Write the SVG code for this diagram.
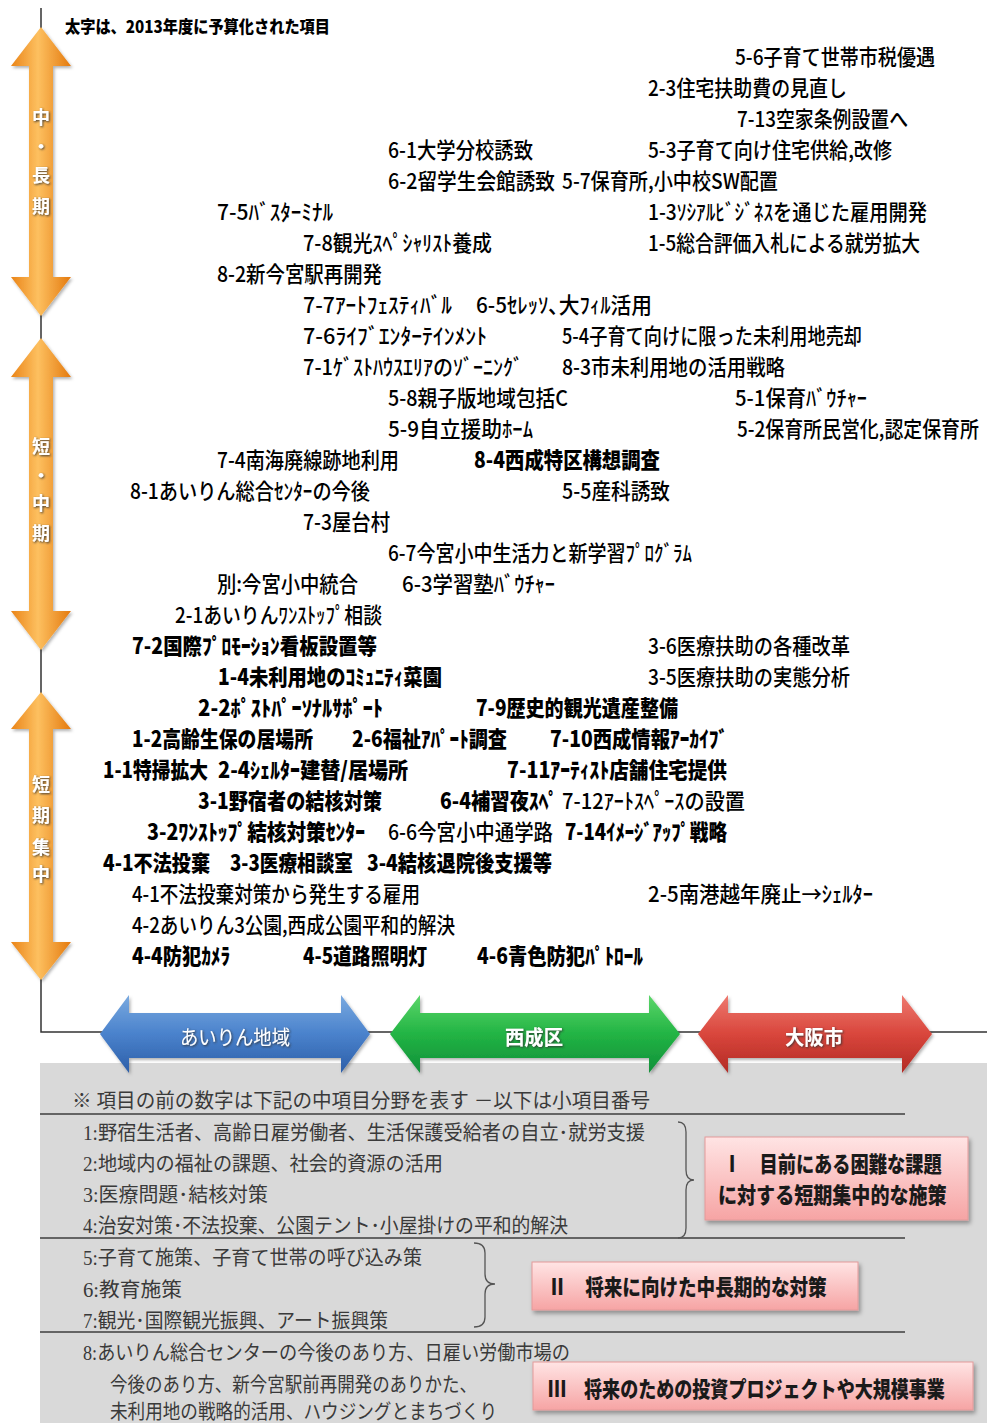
<svg xmlns="http://www.w3.org/2000/svg" width="987" height="1423" viewBox="0 0 987 1423">
<style>
text{font-family:"Noto Sans CJK JP","Noto Sans CJK SC",sans-serif;}
.it{font-size:22px;font-weight:500;fill:#000;}
.b{font-size:22px;font-weight:900;fill:#000;}
.ttl{font-size:17px;font-weight:900;fill:#000;}
.leg{font-size:20px;font-weight:400;fill:#3a3a3a;font-family:"Liberation Serif","Noto Sans CJK JP",serif;}
.vl{font-size:18px;font-weight:700;fill:#fff;text-anchor:middle;}
.hl{font-size:20px;fill:#fff;text-anchor:middle;}
.bx{font-size:22px;font-weight:900;fill:#1a1a1a;}
.ax{stroke:#333;stroke-width:1.5;fill:none;}
.sep{stroke:#3c3c3c;stroke-width:1.5;}
.brace{stroke:#555;stroke-width:1.3;fill:none;}
.pink{fill:url(#pk);stroke:#e39a9a;stroke-width:1;filter:url(#sh);}
</style>
<defs>
<linearGradient id="og" x1="0" y1="0" x2="1" y2="0">
<stop offset="0" stop-color="#ea8418"/>
<stop offset="0.45" stop-color="#fdc060"/>
<stop offset="1" stop-color="#e47a0e"/>
</linearGradient>
<linearGradient id="bg" x1="0" y1="0" x2="0" y2="1">
<stop offset="0" stop-color="#7aaae0"/>
<stop offset="0.5" stop-color="#4a82cc"/>
<stop offset="1" stop-color="#2c5ea8"/>
</linearGradient>
<linearGradient id="gg" x1="0" y1="0" x2="0" y2="1">
<stop offset="0" stop-color="#5cd66a"/>
<stop offset="0.5" stop-color="#22b444"/>
<stop offset="1" stop-color="#12903a"/>
</linearGradient>
<linearGradient id="rg" x1="0" y1="0" x2="0" y2="1">
<stop offset="0" stop-color="#ee7a70"/>
<stop offset="0.5" stop-color="#d9463c"/>
<stop offset="1" stop-color="#b22a24"/>
</linearGradient>
<linearGradient id="pk" x1="0" y1="0" x2="0" y2="1">
<stop offset="0" stop-color="#ffe4e4"/>
<stop offset="1" stop-color="#f6a4a4"/>
</linearGradient>
<filter id="sh" x="-10%" y="-20%" width="120%" height="150%">
<feDropShadow dx="2" dy="3" stdDeviation="2" flood-color="#000" flood-opacity="0.35"/>
</filter>
<filter id="ts" x="-20%" y="-20%" width="140%" height="140%">
<feDropShadow dx="1" dy="1" stdDeviation="0.8" flood-color="#333" flood-opacity="0.9"/>
</filter>
<filter id="as" x="-20%" y="-10%" width="140%" height="120%">
<feDropShadow dx="1.5" dy="2" stdDeviation="1.5" flood-color="#000" flood-opacity="0.3"/>
</filter>
</defs>

<rect id="legend-bg" x="40" y="1063" width="947" height="360" fill="#d9d9d9"/>

<g id="connectors">
<path class="ax" d="M41,8 L41,1032 L987,1032"/>
</g>

<g id="arrow-midlong">
<path d="M41,27 L71,66 L53,66 L53,277 L71,277 L41,316 L11,277 L29,277 L29,66 L11,66 Z" fill="url(#og)" filter="url(#as)"/>
<text class="vl" x="41" y="124" filter="url(#ts)">中</text>
<text class="vl" x="41" y="153" filter="url(#ts)">・</text>
<text class="vl" x="41" y="182" filter="url(#ts)">長</text>
<text class="vl" x="41" y="213" filter="url(#ts)">期</text>
</g>
<g id="arrow-shortmid">
<path d="M41,338 L71,377 L53,377 L53,611 L71,611 L41,650 L11,611 L29,611 L29,377 L11,377 Z" fill="url(#og)" filter="url(#as)"/>
<text class="vl" x="41" y="453" filter="url(#ts)">短</text>
<text class="vl" x="41" y="482" filter="url(#ts)">・</text>
<text class="vl" x="41" y="510" filter="url(#ts)">中</text>
<text class="vl" x="41" y="540" filter="url(#ts)">期</text>
</g>
<g id="arrow-short">
<path d="M41,692 L71,729 L53,729 L53,942 L71,942 L41,980 L11,942 L29,942 L29,729 L11,729 Z" fill="url(#og)" filter="url(#as)"/>
<text class="vl" x="41" y="791" filter="url(#ts)">短</text>
<text class="vl" x="41" y="822" filter="url(#ts)">期</text>
<text class="vl" x="41" y="854" filter="url(#ts)">集</text>
<text class="vl" x="41" y="881" filter="url(#ts)">中</text>
</g>

<g id="arrow-airin">
<path d="M100,1034 L129,995 L129,1013 L341,1013 L341,995 L370,1034 L341,1073 L341,1058 L129,1058 L129,1073 Z" fill="url(#bg)" filter="url(#as)"/>
<text class="hl" x="235" y="1045" filter="url(#ts)" textLength="110" lengthAdjust="spacingAndGlyphs">あいりん地域</text>
</g>
<g id="arrow-nishinari">
<path d="M390,1034 L420,995 L420,1013 L649,1013 L649,995 L680,1034 L649,1073 L649,1058 L420,1058 L420,1073 Z" fill="url(#gg)" filter="url(#as)"/>
<text class="hl" x="534" y="1045" font-weight="700" filter="url(#ts)" textLength="58" lengthAdjust="spacingAndGlyphs">西成区</text>
</g>
<g id="arrow-osaka">
<path d="M698,1034 L728,995 L728,1013 L902,1013 L902,995 L932,1034 L902,1073 L902,1058 L728,1058 L728,1073 Z" fill="url(#rg)" filter="url(#as)"/>
<text class="hl" x="814" y="1045" font-weight="700" filter="url(#ts)" textLength="58" lengthAdjust="spacingAndGlyphs">大阪市</text>
</g>

<g id="title"><text class="ttl" x="65" y="33" textLength="265" lengthAdjust="spacingAndGlyphs">太字は、2013年度に予算化された項目</text></g>

<g id="items">
<g id="i5-6"><text class="it" x="735" y="65" textLength="200" lengthAdjust="spacingAndGlyphs">5-6子育て世帯市税優遇</text></g>
<g id="i2-3"><text class="it" x="648" y="96" textLength="199" lengthAdjust="spacingAndGlyphs">2-3住宅扶助費の見直し</text></g>
<g id="i7-13"><text class="it" x="737" y="127" textLength="171" lengthAdjust="spacingAndGlyphs">7-13空家条例設置へ</text></g>
<g id="i6-1"><text class="it" x="388" y="158" textLength="145" lengthAdjust="spacingAndGlyphs">6-1大学分校誘致</text></g>
<g id="i5-3"><text class="it" x="648" y="158" textLength="244" lengthAdjust="spacingAndGlyphs">5-3子育て向け住宅供給,改修</text></g>
<g id="i6-2"><text class="it" x="388" y="189" textLength="167" lengthAdjust="spacingAndGlyphs">6-2留学生会館誘致</text></g>
<g id="i5-7"><text class="it" x="562" y="189" textLength="216" lengthAdjust="spacingAndGlyphs">5-7保育所,小中校SW配置</text></g>
<g id="i7-5"><text class="it" x="217" y="220" textLength="116" lengthAdjust="spacingAndGlyphs">7-5ﾊﾞｽﾀｰﾐﾅﾙ</text></g>
<g id="i1-3"><text class="it" x="648" y="220" textLength="279" lengthAdjust="spacingAndGlyphs">1-3ｿｼｱﾙﾋﾞｼﾞﾈｽを通じた雇用開発</text></g>
<g id="i7-8"><text class="it" x="303" y="251" textLength="189" lengthAdjust="spacingAndGlyphs">7-8観光ｽﾍﾟｼｬﾘｽﾄ養成</text></g>
<g id="i1-5"><text class="it" x="648" y="251" textLength="272" lengthAdjust="spacingAndGlyphs">1-5総合評価入札による就労拡大</text></g>
<g id="i8-2"><text class="it" x="217" y="282" textLength="165" lengthAdjust="spacingAndGlyphs">8-2新今宮駅再開発</text></g>
<g id="i7-7"><text class="it" x="303" y="313" textLength="149" lengthAdjust="spacingAndGlyphs">7-7ｱｰﾄﾌｪｽﾃｨﾊﾞﾙ</text></g>
<g id="i6-5"><text class="it" x="476" y="313" textLength="176" lengthAdjust="spacingAndGlyphs">6-5ｾﾚｯｿ､大ﾌｨﾙ活用</text></g>
<g id="i7-6"><text class="it" x="303" y="344" textLength="184" lengthAdjust="spacingAndGlyphs">7-6ﾗｲﾌﾞｴﾝﾀｰﾃｲﾝﾒﾝﾄ</text></g>
<g id="i5-4"><text class="it" x="562" y="344" textLength="300" lengthAdjust="spacingAndGlyphs">5-4子育て向けに限った未利用地売却</text></g>
<g id="i7-1"><text class="it" x="303" y="375" textLength="220" lengthAdjust="spacingAndGlyphs">7-1ｹﾞｽﾄﾊｳｽｴﾘｱのｿﾞｰﾆﾝｸﾞ</text></g>
<g id="i8-3"><text class="it" x="562" y="375" textLength="223" lengthAdjust="spacingAndGlyphs">8-3市未利用地の活用戦略</text></g>
<g id="i5-8"><text class="it" x="388" y="406" textLength="180" lengthAdjust="spacingAndGlyphs">5-8親子版地域包括C</text></g>
<g id="i5-1"><text class="it" x="735" y="406" textLength="132" lengthAdjust="spacingAndGlyphs">5-1保育ﾊﾞｳﾁｬｰ</text></g>
<g id="i5-9"><text class="it" x="388" y="437" textLength="145" lengthAdjust="spacingAndGlyphs">5-9自立援助ﾎｰﾑ</text></g>
<g id="i5-2"><text class="it" transform="translate(737,437) scale(0.84,1)" x="0" y="0" textLength="288" lengthAdjust="spacingAndGlyphs">5-2保育所民営化,認定保育所</text></g>
<g id="i7-4"><text class="it" x="217" y="468" textLength="182" lengthAdjust="spacingAndGlyphs">7-4南海廃線跡地利用</text></g>
<g id="i8-4"><text class="b" x="474" y="468" textLength="186" lengthAdjust="spacingAndGlyphs">8-4西成特区構想調査</text></g>
<g id="i8-1"><text class="it" x="130" y="499" textLength="240" lengthAdjust="spacingAndGlyphs">8-1あいりん総合ｾﾝﾀｰの今後</text></g>
<g id="i5-5"><text class="it" x="562" y="499" textLength="108" lengthAdjust="spacingAndGlyphs">5-5産科誘致</text></g>
<g id="i7-3"><text class="it" x="303" y="530" textLength="87" lengthAdjust="spacingAndGlyphs">7-3屋台村</text></g>
<g id="i6-7"><text class="it" x="388" y="561" textLength="304" lengthAdjust="spacingAndGlyphs">6-7今宮小中生活力と新学習ﾌﾟﾛｸﾞﾗﾑ</text></g>
<g id="ibetsu"><text class="it" x="217" y="592" textLength="141" lengthAdjust="spacingAndGlyphs">別:今宮小中統合</text></g>
<g id="i6-3"><text class="it" x="402" y="592" textLength="153" lengthAdjust="spacingAndGlyphs">6-3学習塾ﾊﾞｳﾁｬｰ</text></g>
<g id="i2-1"><text class="it" x="175" y="623" textLength="207" lengthAdjust="spacingAndGlyphs">2-1あいりんﾜﾝｽﾄｯﾌﾟ相談</text></g>
<g id="i7-2"><text class="b" x="132" y="654" textLength="245" lengthAdjust="spacingAndGlyphs">7-2国際ﾌﾟﾛﾓｰｼｮﾝ看板設置等</text></g>
<g id="i3-6"><text class="it" x="648" y="654" textLength="202" lengthAdjust="spacingAndGlyphs">3-6医療扶助の各種改革</text></g>
<g id="i1-4"><text class="b" x="218" y="685" textLength="224" lengthAdjust="spacingAndGlyphs">1-4未利用地のｺﾐｭﾆﾃｨ菜園</text></g>
<g id="i3-5"><text class="it" x="648" y="685" textLength="202" lengthAdjust="spacingAndGlyphs">3-5医療扶助の実態分析</text></g>
<g id="i2-2"><text class="b" x="198" y="716" textLength="185" lengthAdjust="spacingAndGlyphs">2-2ﾎﾟｽﾄﾊﾟｰｿﾅﾙｻﾎﾟｰﾄ</text></g>
<g id="i7-9"><text class="b" x="476" y="716" textLength="202" lengthAdjust="spacingAndGlyphs">7-9歴史的観光遺産整備</text></g>
<g id="i1-2"><text class="b" x="132" y="747" textLength="181" lengthAdjust="spacingAndGlyphs">1-2高齢生保の居場所</text></g>
<g id="i2-6"><text class="b" x="352" y="747" textLength="155" lengthAdjust="spacingAndGlyphs">2-6福祉ｱﾊﾟｰﾄ調査</text></g>
<g id="i7-10"><text class="b" x="550" y="747" textLength="178" lengthAdjust="spacingAndGlyphs">7-10西成情報ｱｰｶｲﾌﾞ</text></g>
<g id="i1-1"><text class="b" x="103" y="778" textLength="105" lengthAdjust="spacingAndGlyphs">1-1特掃拡大</text></g>
<g id="i2-4"><text class="b" x="218" y="778" textLength="190" lengthAdjust="spacingAndGlyphs">2-4ｼｪﾙﾀｰ建替/居場所</text></g>
<g id="i7-11"><text class="b" x="507" y="778" textLength="220" lengthAdjust="spacingAndGlyphs">7-11ｱｰﾃｨｽﾄ店舗住宅提供</text></g>
<g id="i3-1"><text class="b" x="198" y="809" textLength="184" lengthAdjust="spacingAndGlyphs">3-1野宿者の結核対策</text></g>
<g id="i6-4"><text class="b" x="440" y="809" textLength="118" lengthAdjust="spacingAndGlyphs">6-4補習夜ｽﾍﾟ</text></g>
<g id="i7-12"><text class="it" x="562" y="809" textLength="183" lengthAdjust="spacingAndGlyphs">7-12ｱｰﾄｽﾍﾟｰｽの設置</text></g>
<g id="i3-2"><text class="b" x="147" y="840" textLength="218" lengthAdjust="spacingAndGlyphs">3-2ﾜﾝｽﾄｯﾌﾟ結核対策ｾﾝﾀｰ</text></g>
<g id="i6-6"><text class="it" x="388" y="840" textLength="165" lengthAdjust="spacingAndGlyphs">6-6今宮小中通学路</text></g>
<g id="i7-14"><text class="b" x="565" y="840" textLength="162" lengthAdjust="spacingAndGlyphs">7-14ｲﾒｰｼﾞｱｯﾌﾟ戦略</text></g>
<g id="i4-1a"><text class="b" x="103" y="871" textLength="107" lengthAdjust="spacingAndGlyphs">4-1不法投棄</text></g>
<g id="i3-3"><text class="b" x="230" y="871" textLength="123" lengthAdjust="spacingAndGlyphs">3-3医療相談室</text></g>
<g id="i3-4"><text class="b" x="367" y="871" textLength="185" lengthAdjust="spacingAndGlyphs">3-4結核退院後支援等</text></g>
<g id="i4-1b"><text class="it" x="132" y="902" textLength="288" lengthAdjust="spacingAndGlyphs">4-1不法投棄対策から発生する雇用</text></g>
<g id="i2-5"><text class="it" x="648" y="902" textLength="225" lengthAdjust="spacingAndGlyphs">2-5南港越年廃止→ｼｪﾙﾀｰ</text></g>
<g id="i4-2"><text class="it" x="132" y="933" textLength="323" lengthAdjust="spacingAndGlyphs">4-2あいりん3公園,西成公園平和的解決</text></g>
<g id="i4-4"><text class="b" x="132" y="964" textLength="98" lengthAdjust="spacingAndGlyphs">4-4防犯ｶﾒﾗ</text></g>
<g id="i4-5"><text class="b" x="303" y="964" textLength="124" lengthAdjust="spacingAndGlyphs">4-5道路照明灯</text></g>
<g id="i4-6"><text class="b" x="477" y="964" textLength="166" lengthAdjust="spacingAndGlyphs">4-6青色防犯ﾊﾟﾄﾛｰﾙ</text></g>
</g>

<g id="legend">
<line class="sep" x1="40" y1="1114" x2="905" y2="1114"/>
<line class="sep" x1="40" y1="1238" x2="905" y2="1238"/>
<line class="sep" x1="40" y1="1332" x2="905" y2="1332" stroke-width="2"/>
<text class="leg" x="72" y="1108" textLength="578" lengthAdjust="spacingAndGlyphs">※ 項目の前の数字は下記の中項目分野を表す －以下は小項目番号</text>
<text class="leg" x="83" y="1140" textLength="562" lengthAdjust="spacingAndGlyphs">1:野宿生活者、高齢日雇労働者、生活保護受給者の自立･就労支援</text>
<text class="leg" x="83" y="1171" textLength="360" lengthAdjust="spacingAndGlyphs">2:地域内の福祉の課題、社会的資源の活用</text>
<text class="leg" x="83" y="1202" textLength="185" lengthAdjust="spacingAndGlyphs">3:医療問題･結核対策</text>
<text class="leg" x="83" y="1233" textLength="485" lengthAdjust="spacingAndGlyphs">4:治安対策･不法投棄、公園テント･小屋掛けの平和的解決</text>
<text class="leg" x="83" y="1265" textLength="339" lengthAdjust="spacingAndGlyphs">5:子育て施策、子育て世帯の呼び込み策</text>
<text class="leg" x="83" y="1297" textLength="99" lengthAdjust="spacingAndGlyphs">6:教育施策</text>
<text class="leg" x="83" y="1328" textLength="305" lengthAdjust="spacingAndGlyphs">7:観光･国際観光振興、アート振興策</text>
<text class="leg" x="83" y="1360" textLength="487" lengthAdjust="spacingAndGlyphs">8:あいりん総合センターの今後のあり方、日雇い労働市場の</text>
<text class="leg" x="110" y="1392" textLength="367" lengthAdjust="spacingAndGlyphs">今後のあり方、新今宮駅前再開発のありかた、</text>
<text class="leg" x="110" y="1419" textLength="387" lengthAdjust="spacingAndGlyphs">未利用地の戦略的活用、ハウジングとまちづくり</text>
<path class="brace" d="M678,1122 Q686,1122 686,1132 L686,1170 Q686,1180 694,1180 Q686,1180 686,1190 L686,1228 Q686,1238 678,1238"/>
<path class="brace" d="M474,1243 Q485,1243 485,1253 L485,1274 Q485,1284 495,1284 Q485,1284 485,1294 L485,1317 Q485,1327 474,1327"/>
</g>

<g id="box1">
<rect class="pink" x="705" y="1137" width="263" height="83"/>
<text class="bx" transform="translate(723,1172) scale(0.9,1)" x="0" y="0" textLength="243" lengthAdjust="spacingAndGlyphs">Ⅰ　目前にある困難な課題</text>
<text class="bx" transform="translate(718,1203) scale(0.9,1)" x="0" y="0" textLength="254" lengthAdjust="spacingAndGlyphs">に対する短期集中的な施策</text>
</g>
<g id="box2">
<rect class="pink" x="532" y="1262" width="326" height="48"/>
<text class="bx" transform="translate(548,1295) scale(0.86,1)" x="0" y="0" textLength="324" lengthAdjust="spacingAndGlyphs">Ⅱ　将来に向けた中長期的な対策</text>
</g>
<g id="box3">
<rect class="pink" x="533" y="1362" width="440" height="48"/>
<text class="bx" transform="translate(548,1397) scale(0.82,1)" x="0" y="0" textLength="484" lengthAdjust="spacingAndGlyphs">Ⅲ　将来のための投資プロジェクトや大規模事業</text>
</g>
</svg>
